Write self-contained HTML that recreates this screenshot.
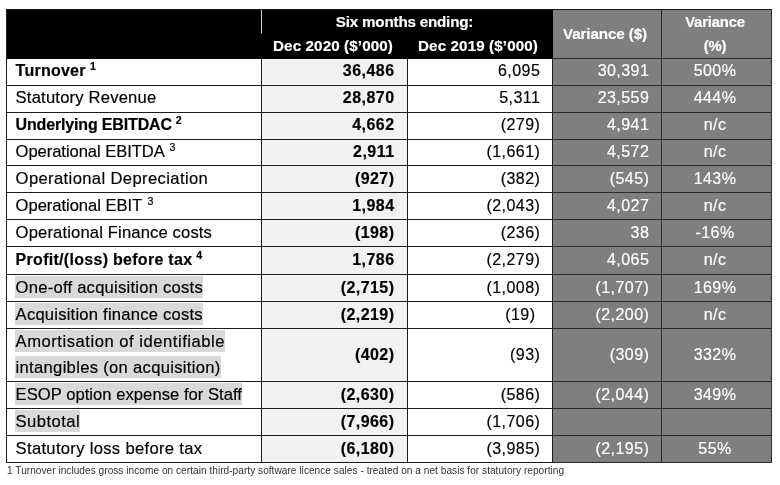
<!DOCTYPE html>
<html lang="en">
<head>
<meta charset="utf-8">
<title>Financial results – six months ending Dec 2020</title>
<style>
  html, body { margin: 0; padding: 0; background: #fff; }
  body {
    width: 780px; height: 485px; position: relative; overflow: hidden;
    font-family: "Liberation Sans", sans-serif; color: #000;
    will-change: transform; /* forces greyscale text antialiasing */
  }
  table {
    position: absolute; left: 6px; top: 9px;
    border-collapse: separate; border-spacing: 0;
    table-layout: fixed; width: 766px;
    border-left: 1px solid #1c1c1c; border-top: 1px solid #1c1c1c;
  }
  td, th {
    box-sizing: border-box; padding: 0; margin: 0;
    border-right: 1px solid #1c1c1c; border-bottom: 1px solid #1c1c1c;
    font-size: 16px; line-height: 20px; white-space: nowrap;
    overflow: hidden; vertical-align: top;
    -webkit-text-stroke: 0.18px currentColor;
  }
  /* ---------- header ---------- */
  thead th { background: #000; color: #fff; font-weight: 700; font-size: 15.2px; border-color: #000; }
  thead th.tick { border-right-color: #d4d4d4; }
  thead th.g { background: #7f7f7f; border-right-color: #2a2a2a; border-bottom-color: #2a2a2a; }
  thead tr.h1 th { height: 24px; }
  thead tr.h2 th { height: 25px; }
  thead th.six { text-align: center; padding: 2px 5px 0 0; letter-spacing: -0.2px; }
  thead th.dec { text-align: right; padding: 2px 14px 0 0; letter-spacing: 0.11px; }
  thead th.v1 { text-align: center; padding: 13.5px 4px 0 0; letter-spacing: -0.1px; }
  thead th.v2 { text-align: center; padding: 0 3px 0 0; line-height: 24px; font-size: 14.8px; letter-spacing: -0.15px; }
  /* ---------- body ---------- */
  tbody td { padding-top: 2px; letter-spacing: 0.45px; }
  tbody td.l { text-align: left; padding-left: 8.6px; font-size: 16.6px; letter-spacing: 0; }
  tbody td.b { background: #f2f2f2; font-weight: 700; text-align: right; padding-right: 12.5px; }
  tbody td.p { background: #fff; text-align: right; padding-right: 11.7px; }
  tbody td.gv { background: #7f7f7f; border-color: #2a2a2a; color: #fff; text-align: right; padding-right: 11.7px; }
  tbody td.gp { background: #7f7f7f; border-color: #2a2a2a; color: #fff; text-align: center; padding-right: 3px; }
  tbody tr.bold td.l { font-weight: 700; font-size: 16px; }
  tbody tr:nth-child(n+5) td { padding-top: 3px; }
  tbody tr.tall td { padding-top: 16px; }
  tbody tr.tall td.l { padding-top: 0; line-height: 26px; }
  sup { font-size: 10.6px; line-height: 0; vertical-align: 6.5px; letter-spacing: -0.4px; margin-left: 1.2px; }
  tbody tr.bold sup { margin-left: 1.6px; vertical-align: 6.3px; }
  mark { background: #d9d9d9; color: inherit; padding: 2px 0 0.5px 1px; margin-left: -1px; }
  .foot {
    position: absolute; left: 7px; top: 464px; margin: 0;
    font-size: 10.1px; line-height: 14px; letter-spacing: 0.035px; color: #333; white-space: nowrap;
  }
</style>
</head>
<body>
<table>
  <colgroup>
    <col style="width:255px"><col style="width:146px"><col style="width:145px"><col style="width:109px"><col style="width:110px">
  </colgroup>
  <thead>
    <tr class="h1">
      <th class="tick"></th>
      <th class="six" colspan="2">Six months ending:</th>
      <th class="g v1" rowspan="2">Variance ($)</th>
      <th class="g v2" rowspan="2">Variance<br>(%)</th>
    </tr>
    <tr class="h2">
      <th></th>
      <th class="dec">Dec 2020 ($’000)</th>
      <th class="dec">Dec 2019 ($’000)</th>
    </tr>
  </thead>
  <tbody>
    <tr class="bold" style="height:27px"><td class="l" style="letter-spacing:0.24px">Turnover <sup style="margin-left:-0.4px">1</sup></td><td class="b">36,486</td><td class="p">6,095</td><td class="gv">30,391</td><td class="gp">500%</td></tr>
    <tr style="height:27px"><td class="l" style="letter-spacing:0.198px">Statutory Revenue</td><td class="b">28,870</td><td class="p">5,311</td><td class="gv">23,559</td><td class="gp">444%</td></tr>
    <tr class="bold" style="height:27px"><td class="l" style="letter-spacing:-0.16px">Underlying EBITDAC <sup style="margin-left:-0.4px">2</sup></td><td class="b">4,662</td><td class="p">(279)</td><td class="gv">4,941</td><td class="gp">n/c</td></tr>
    <tr style="height:26px"><td class="l" style="letter-spacing:-0.07px">Operational EBITDA <sup>3</sup></td><td class="b">2,911</td><td class="p">(1,661)</td><td class="gv">4,572</td><td class="gp">n/c</td></tr>
    <tr style="height:27px"><td class="l" style="letter-spacing:0.376px">Operational Depreciation</td><td class="b">(927)</td><td class="p">(382)</td><td class="gv">(545)</td><td class="gp">143%</td></tr>
    <tr style="height:27px"><td class="l" style="letter-spacing:-0.05px">Operational EBIT <sup>3</sup></td><td class="b">1,984</td><td class="p">(2,043)</td><td class="gv">4,027</td><td class="gp">n/c</td></tr>
    <tr style="height:27px"><td class="l" style="letter-spacing:0.148px">Operational Finance costs</td><td class="b">(198)</td><td class="p">(236)</td><td class="gv">38</td><td class="gp">-16%</td></tr>
    <tr class="bold" style="height:28px"><td class="l" style="letter-spacing:0.29px">Profit/(loss) before tax <sup style="margin-left:-0.8px">4</sup></td><td class="b">1,786</td><td class="p">(2,279)</td><td class="gv">4,065</td><td class="gp">n/c</td></tr>
    <tr style="height:27px"><td class="l"><mark style="letter-spacing:0.238px">One-off acquisition costs</mark></td><td class="b">(2,715)</td><td class="p">(1,008)</td><td class="gv">(1,707)</td><td class="gp">169%</td></tr>
    <tr style="height:27px"><td class="l"><mark style="letter-spacing:0.218px">Acquisition finance costs</mark></td><td class="b">(2,219)</td><td class="p" style="padding-right:16.5px">(19)</td><td class="gv">(2,200)</td><td class="gp">n/c</td></tr>
    <tr class="tall" style="height:53px"><td class="l"><mark style="letter-spacing:0.529px">Amortisation of identifiable</mark><br><mark style="letter-spacing:0.304px">intangibles (on acquisition)</mark></td><td class="b">(402)</td><td class="p">(93)</td><td class="gv">(309)</td><td class="gp">332%</td></tr>
    <tr style="height:27px"><td class="l"><mark style="letter-spacing:0.035px">ESOP option expense for Staff</mark></td><td class="b">(2,630)</td><td class="p">(586)</td><td class="gv">(2,044)</td><td class="gp">349%</td></tr>
    <tr style="height:27px"><td class="l"><mark style="letter-spacing:0.444px">Subtotal</mark></td><td class="b">(7,966)</td><td class="p">(1,706)</td><td class="gv"></td><td class="gp"></td></tr>
    <tr style="height:27px"><td class="l" style="letter-spacing:0.311px">Statutory loss before tax</td><td class="b">(6,180)</td><td class="p">(3,985)</td><td class="gv">(2,195)</td><td class="gp">55%</td></tr>
  </tbody>
</table>
<p class="foot">1 Turnover includes gross income on certain third-party software licence sales - treated on a net basis for statutory reporting</p>
</body>
</html>
